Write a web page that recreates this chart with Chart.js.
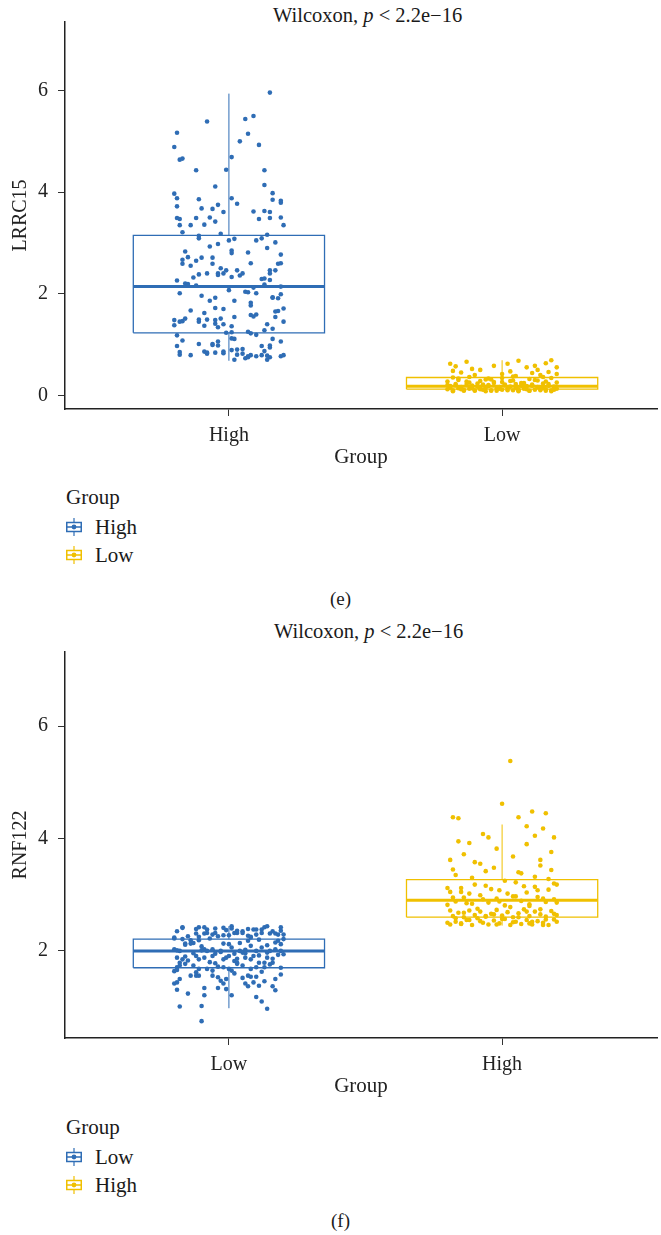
<!DOCTYPE html>
<html><head><meta charset="utf-8">
<script src="https://cdn.jsdelivr.net/npm/chart.js@4.4.1/dist/chart.umd.min.js"></script>
<style>
body{margin:0;background:#fff;width:661px;height:1235px;position:relative;overflow:hidden;font-family:'Liberation Serif',serif;color:#1a1a1a}
.cv{position:absolute;left:0;width:661px}
.ttl{position:absolute;font-size:20.5px;white-space:nowrap;line-height:1}
.lg{position:absolute;left:66px;font-size:21px;line-height:1}
.lg .it{display:flex;align-items:center;height:28px}
.lg svg{margin-right:13px}
.cap{position:absolute;left:10px;width:661px;text-align:center;font-size:19px;line-height:1}
</style></head><body>
<div class="ttl" style="left:273px;top:5px">Wilcoxon, <i>p</i> &lt; 2.2e−16</div>
<canvas id="c1" class="cv" style="top:0" width="661" height="470"></canvas>
<div class="lg" style="top:487px"><div style="height:26px">Group</div>
<div class="it"><svg width="16" height="18" id="i1a"></svg>High</div>
<div class="it"><svg width="16" height="18" id="i1b"></svg>Low</div></div>
<div class="cap" style="top:589px">(e)</div>

<div class="ttl" style="left:274px;top:621px">Wilcoxon, <i>p</i> &lt; 2.2e−16</div>
<canvas id="c2" class="cv" style="top:630px" width="661" height="469"></canvas>
<div class="lg" style="top:1117px"><div style="height:26px">Group</div>
<div class="it"><svg width="16" height="18" id="i2a"></svg>Low</div>
<div class="it"><svg width="16" height="18" id="i2b"></svg>High</div></div>
<div class="cap" style="top:1211px">(f)</div>
<script>
// ---------- data ----------
const BLUE = '#2f6db5', YELLOW = '#f0c000';
const yTicks = [0, 2, 4, 6];
const yTicksF = [2, 4, 6];

// Panel (e): LRRC15
const eCategories = ['High', 'Low'];
// box stats: [whiskerLow, q1, median, q3, whiskerHigh]
const eHighStats = [0.68, 1.23, 2.14, 3.15, 5.94];
const eLowStats  = [0.08, 0.12, 0.18, 0.35, 0.69];
const eHighJit = [0.15,-0.08,0.06,0.09,-0.19,0.07,-0.20,0.04,0.11,-0.18,-0.17,0.01,-0.12,-0.01,0.13,-0.05,0.13,-0.20,-0.19,-0.11,0.01,0.03,0.16,0.16,0.19,0.19,-0.19,-0.10,-0.06,-0.04,-0.02,0.09,0.13,0.15,-0.19,-0.18,-0.12,-0.07,-0.05,0.11,0.15,0.19,-0.18,-0.14,-0.09,0.20,-0.17,-0.03,-0.11,-0.11,0.00,0.02,0.10,0.12,0.14,0.17,-0.07,-0.04,0.01,0.01,0.07,0.14,0.19,-0.16,-0.15,-0.17,-0.17,-0.14,-0.12,-0.10,-0.06,-0.06,-0.03,0.08,0.18,0.19,-0.19,-0.16,-0.13,-0.11,-0.08,-0.04,-0.04,-0.02,-0.01,0.01,0.03,0.04,0.05,0.12,0.13,0.15,0.15,0.17,0.15,-0.15,-0.12,-0.18,-0.10,-0.07,-0.05,0.00,0.02,0.06,0.07,0.09,0.10,0.13,0.16,0.16,0.18,0.19,0.19,-0.14,-0.09,-0.05,-0.02,0.08,0.08,-0.20,-0.18,-0.17,-0.16,-0.11,-0.11,-0.08,-0.09,-0.05,-0.05,-0.04,-0.03,-0.02,0.02,0.08,0.09,0.10,0.14,0.16,0.17,0.17,0.18,0.20,0.20,-0.20,-0.19,-0.17,-0.11,-0.06,-0.06,-0.04,-0.04,-0.01,0.01,0.01,0.01,0.02,0.07,0.08,0.10,0.13,0.16,0.19,-0.19,-0.18,-0.18,-0.14,-0.09,-0.08,-0.08,-0.05,-0.02,-0.02,0.01,0.03,0.03,0.05,0.05,0.07,0.07,0.08,0.10,0.12,0.13,0.15,0.15,0.14,0.15,0.14,0.19,0.20,0.02,0.06,0.12];
const eHighVal = [5.96,5.39,5.44,5.50,5.17,5.15,4.89,5.00,4.93,4.64,4.66,4.69,4.43,4.44,4.43,4.11,4.14,3.97,3.88,3.86,3.88,3.77,3.98,3.85,3.79,3.83,3.72,3.68,3.67,3.75,3.61,3.62,3.63,3.61,3.49,3.47,3.49,3.50,3.42,3.47,3.49,3.50,3.35,3.35,3.36,3.35,3.21,3.18,3.14,3.09,3.05,3.08,3.05,3.09,3.16,3.01,2.93,2.98,2.85,2.80,2.81,2.90,2.77,2.83,2.72,2.67,2.59,2.55,2.65,2.71,2.71,2.59,2.50,2.60,2.59,2.60,2.26,2.20,2.32,2.38,2.40,2.40,2.37,2.40,2.46,2.33,2.46,2.36,2.40,2.29,2.30,2.27,2.46,2.46,2.40,2.19,2.16,2.01,1.96,1.86,1.92,2.07,1.86,2.04,2.03,2.12,2.01,2.18,1.93,1.92,1.91,1.99,2.14,1.67,1.62,1.72,1.70,1.82,1.77,1.48,1.45,1.46,1.51,1.49,1.45,1.49,1.37,1.48,1.41,1.34,1.51,1.40,1.54,1.58,1.55,1.59,1.40,1.31,1.65,1.54,1.66,1.71,1.45,1.38,1.18,1.08,1.01,0.99,1.01,0.98,1.06,1.23,1.36,1.24,1.12,1.11,1.25,1.22,1.19,1.28,1.11,1.06,0.97,0.85,0.80,0.79,0.86,0.82,0.84,0.84,0.86,0.83,0.89,0.80,0.90,0.91,0.82,0.75,0.77,0.79,0.77,0.97,0.87,0.98,0.94,0.78,0.75,0.70,0.77,0.79,0.70,0.73,0.79];
const eLowJit = [-0.19,-0.17,-0.13,-0.08,-0.03,0.02,0.06,0.09,0.13,0.16,0.18,0.20,-0.15,-0.10,0.00,0.05,0.11,0.15,-0.18,-0.05,-0.20,-0.18,-0.16,-0.14,-0.12,-0.10,-0.08,-0.06,-0.04,-0.02,0.00,0.02,0.04,0.06,0.08,0.10,0.12,0.14,0.16,0.18,0.20,-0.19,-0.17,-0.15,-0.13,-0.11,-0.09,-0.07,-0.05,-0.03,-0.01,0.01,0.03,0.05,0.07,0.09,0.11,0.13,0.15,0.17,0.19,-0.20,-0.16,-0.12,-0.08,-0.04,0.00,0.04,0.08,0.12,0.16,0.20,-0.18,-0.14,-0.10,-0.06,-0.02,0.02,0.06,0.10,0.14,0.18,
  -0.19,-0.17,-0.15,-0.13,-0.11,-0.09,-0.07,-0.05,-0.03,-0.01,0.01,0.03,0.05,0.07,0.09,0.11,0.13,0.15,0.17,0.19,-0.20,-0.16,-0.12,-0.06,0.00,0.04,0.10,0.14,0.18,0.20,-0.18,-0.11,0.03,0.12,0.17,-0.14,-0.04,0.06,0.16,-0.08];
const eLowVal = [0.62,0.57,0.66,0.50,0.58,0.62,0.68,0.55,0.50,0.63,0.69,0.55,0.45,0.40,0.42,0.38,0.44,0.36,0.35,0.33,0.12,0.10,0.14,0.11,0.13,0.09,0.12,0.15,0.10,0.13,0.11,0.14,0.10,0.12,0.13,0.09,0.11,0.14,0.12,0.10,0.13,0.18,0.20,0.16,0.22,0.19,0.17,0.21,0.18,0.24,0.16,0.20,0.17,0.22,0.19,0.18,0.21,0.16,0.23,0.19,0.17,0.27,0.30,0.25,0.28,0.31,0.26,0.29,0.24,0.30,0.27,0.25,0.08,0.09,0.10,0.08,0.09,0.10,0.08,0.09,0.10,0.08,
  0.15,0.22,0.12,0.27,0.14,0.23,0.11,0.20,0.26,0.13,0.21,0.28,0.15,0.24,0.12,0.19,0.29,0.14,0.22,0.11,0.20,0.33,0.36,0.31,0.34,0.37,0.32,0.40,0.34,0.42,0.48,0.52,0.47,0.58,0.46,0.10,0.09,0.10,0.09,0.13];

// Panel (f): RNF122
const fCategories = ['Low', 'High'];
const fLowStats  = [0.98, 1.70, 2.00, 2.21, 2.44];
const fHighStats = [2.45, 2.60, 2.90, 3.27, 4.25];
const fLowJit = [-0.17,-0.17,-0.11,-0.09,-0.08,-0.05,-0.02,0.01,0.01,0.03,0.05,0.09,0.10,0.12,0.13,0.14,0.19,0.19,0.18,0.20,0.20,0.19,0.18,-0.20,-0.20,-0.17,-0.15,-0.12,-0.11,-0.09,-0.08,-0.06,-0.05,-0.04,-0.02,0.02,0.03,0.05,0.07,0.08,0.08,0.10,0.12,0.15,0.17,-0.20,-0.19,-0.18,-0.16,-0.16,-0.14,-0.13,-0.11,-0.10,-0.09,-0.08,-0.06,-0.05,-0.03,-0.02,0.00,0.01,0.02,0.04,0.05,0.07,0.08,0.10,0.12,0.14,0.15,0.17,0.19,0.20,-0.19,-0.17,-0.15,-0.12,-0.11,-0.09,-0.06,-0.05,-0.02,-0.01,0.00,0.02,0.03,0.06,0.08,0.09,0.11,0.13,0.14,0.16,-0.19,-0.18,-0.20,-0.19,-0.16,-0.13,-0.11,-0.08,-0.06,-0.04,-0.02,0.00,0.01,0.03,0.05,0.08,0.10,0.13,0.19,-0.14,-0.12,-0.11,-0.06,-0.04,-0.03,-0.02,-0.01,0.05,0.07,0.08,0.10,0.06,0.09,0.11,0.13,0.17,0.19,-0.20,-0.19,-0.18,-0.19,-0.15,-0.09,-0.09,-0.04,-0.01,0.01,0.07,0.10,0.12,0.16,0.17,-0.18,-0.10,0.14,-0.10,
  -0.19,-0.14,-0.10,-0.07,-0.03,0.00,0.04,0.06,0.11,0.14,0.17,-0.16,-0.13,-0.07,0.03,0.06,0.11,0.16,0.18,-0.18,-0.12,0.02,0.12,0.15,-0.01,0.07,-0.12,0.16];
const fLowVal = [2.41,2.42,2.42,2.42,2.38,2.40,2.41,2.44,2.40,2.36,2.35,2.38,2.38,2.38,2.42,2.44,2.42,2.36,2.29,2.29,2.21,2.12,2.18,2.22,2.24,2.21,2.26,2.31,2.25,2.31,2.32,2.29,2.32,2.26,2.28,2.32,2.32,2.32,2.27,2.25,2.24,2.29,2.32,2.31,2.31,2.03,2.01,2.00,2.11,2.13,2.13,2.14,2.19,2.01,2.03,2.00,2.03,1.95,2.00,2.13,2.12,2.06,1.95,2.00,1.97,2.18,2.09,2.00,2.06,1.97,2.00,2.03,2.00,1.94,1.88,1.85,1.83,1.91,1.85,1.88,1.91,1.78,1.85,1.88,1.91,1.82,1.79,1.88,1.85,1.91,1.79,1.79,1.88,1.79,1.71,1.74,1.64,1.66,1.77,1.74,1.68,1.68,1.65,1.72,1.71,1.68,1.65,1.77,1.74,1.68,1.71,1.71,1.70,1.56,1.56,1.56,1.56,1.53,1.47,1.42,1.50,1.52,1.56,1.54,1.54,1.42,1.44,1.38,1.46,1.50,1.58,1.42,1.44,1.50,1.31,1.24,1.34,1.21,1.34,1.32,1.21,1.37,1.18,1.10,1.37,1.30,1.01,1.02,0.97,0.75,
  2.35,2.19,2.08,2.22,1.98,2.28,2.14,2.02,2.20,2.10,2.15,1.90,1.96,1.80,1.86,1.96,1.92,1.86,1.93,1.79,1.62,1.60,1.63,1.76,2.37,2.39,2.39,2.35];
const fHighJit = [0.03,-0.18,-0.16,-0.12,-0.05,0.00,0.06,0.11,0.16,0.19,-0.19,-0.14,-0.08,-0.02,0.04,0.09,0.14,0.18,-0.17,-0.11,-0.06,0.01,0.07,0.12,0.17,-0.20,-0.15,-0.10,-0.04,0.02,0.08,0.13,0.19,-0.18,-0.13,-0.07,-0.01,0.05,0.10,0.15,0.20,-0.19,-0.14,-0.09,-0.03,0.03,0.09,0.14,0.19,-0.17,-0.12,-0.06,0.00,0.06,0.11,0.16,-0.20,-0.15,-0.08,-0.02,0.04,0.10,0.15,0.20,
  -0.19,-0.17,-0.15,-0.13,-0.11,-0.09,-0.07,-0.05,-0.03,-0.01,0.01,0.03,0.05,0.07,0.09,0.11,0.13,0.15,0.17,0.19,-0.18,-0.16,-0.14,-0.12,-0.10,-0.08,-0.06,-0.04,-0.02,0.00,0.02,0.04,0.06,0.08,0.10,0.12,0.14,0.16,0.18,0.20,-0.20,-0.17,-0.14,-0.11,-0.08,-0.05,-0.02,0.01,0.04,0.07,0.10,0.13,0.16,0.19,-0.19,-0.15,-0.12,-0.06,-0.01,0.05,0.09,0.12,0.17,0.20,-0.18,-0.10,-0.03,0.06,0.14,0.18,-0.16,0.09,0.12,0.15,-0.07];
const fHighVal = [5.38,4.38,4.36,3.92,4.02,4.62,4.38,4.48,4.45,4.02,3.62,3.72,3.55,3.82,3.68,3.90,3.62,3.76,3.35,3.30,3.42,3.25,3.38,3.32,3.28,3.12,3.05,3.18,3.10,3.02,3.15,3.08,3.20,2.95,2.85,2.92,2.88,2.97,2.80,2.93,2.86,2.72,2.68,2.75,2.65,2.78,2.70,2.74,2.66,2.58,2.55,2.62,2.57,2.60,2.52,2.56,2.50,2.48,2.53,2.47,2.51,2.49,2.46,2.52,
  2.47,2.52,2.49,2.55,2.46,2.58,2.50,2.47,2.54,2.49,2.57,2.46,2.52,2.48,2.55,2.47,2.53,2.50,2.46,2.56,2.62,2.68,2.60,2.72,2.64,2.70,2.61,2.66,2.73,2.63,2.69,2.60,2.67,2.74,2.62,2.70,2.65,2.61,2.71,2.64,2.82,2.88,2.95,2.84,2.99,2.86,2.93,2.81,2.97,2.89,2.83,2.96,2.87,2.92,3.05,3.12,3.02,3.16,3.08,3.22,3.04,3.14,3.09,3.18,3.45,3.58,3.48,3.40,3.52,3.44,3.95,4.22,4.05,4.18,4.08];

// ---------- drawing ----------
Chart.defaults.font.family = "'Liberation Serif', 'Times New Roman', serif";
Chart.defaults.font.size = 20;
Chart.defaults.color = '#222';

function groupSets(xc, stats, jit, vals, color) {
  const [lo, q1, med, q3, hi] = stats, w = 0.35;
  const line = (data, bw, ord) => ({type:'line', data, borderColor:color, borderWidth:bw, pointRadius:0, tension:0, fill:false, order:ord});
  return [
    line([{x:xc-w,y:q1},{x:xc+w,y:q1},{x:xc+w,y:q3},{x:xc-w,y:q3},{x:xc-w,y:q1}], 1.3, 2),
    line([{x:xc-w,y:med},{x:xc+w,y:med}], 3, 2),
    line([{x:xc,y:lo},{x:xc,y:q1}], 1, 2),
    line([{x:xc,y:q3},{x:xc,y:hi}], 1, 2),
    {type:'scatter', data: jit.map((j,i)=>({x:xc+j, y:vals[i]})), backgroundColor:color, borderWidth:0, pointRadius:2.3, order:1}
  ];
}

function makeChart(id, cats, ticks, yLabel, yMin, yMax, datasets) {
  new Chart(document.getElementById(id), {
    type:'scatter',
    data:{datasets},
    options:{
      responsive:false, animation:false, events:[],
      layout:{padding:{top:18, right:0, left:0, bottom:0}},
      plugins:{legend:{display:false}, tooltip:{enabled:false}},
      scales:{
        x:{type:'linear', min:0.4, max:2.567,
           afterBuildTicks:s=>{s.ticks=[{value:1},{value:2}];},
           afterFit:s=>{s.height=61;},
           ticks:{callback:v=>cats[v-1], padding:8, color:'#222', font:{size:20}},
           grid:{drawOnChartArea:false, drawTicks:true, tickLength:7, color:'#333', lineWidth:1},
           border:{display:true, color:'#222', width:1.5},
           title:{display:true, text:'Group', padding:{top:1,bottom:0}, font:{size:21}, color:'#222'}},
        y:{type:'linear', min:yMin, max:yMax,
           afterBuildTicks:s=>{s.ticks=ticks.map(v=>({value:v}));},
           afterFit:s=>{s.width=65;},
           ticks:{padding:10, color:'#222', font:{size:20}},
           grid:{drawOnChartArea:false, drawTicks:true, tickLength:7, color:'#333', lineWidth:1},
           border:{display:true, color:'#222', width:1.5},
           title:{display:true, text:yLabel, padding:{top:9,bottom:0}, font:{size:20}, color:'#222'}}
      }
    }
  });
}

makeChart('c1', eCategories, yTicks, 'LRRC15', -0.27, 7.35,
  [...groupSets(1, eHighStats, eHighJit, eHighVal, BLUE), ...groupSets(2, eLowStats, eLowJit, eLowVal, YELLOW)]);
makeChart('c2', fCategories, yTicksF, 'RNF122', 0.45, 7.32,
  [...groupSets(1, fLowStats, fLowJit, fLowVal, BLUE), ...groupSets(2, fHighStats, fHighJit, fHighVal, YELLOW)]);

// legend icons
function icon(id, color) {
  document.getElementById(id).innerHTML =
    `<line x1="8" y1="0" x2="8" y2="18" stroke="${color}" stroke-width="1.2"/>`+
    `<rect x="0.75" y="4.5" width="14.5" height="9" fill="#fff" stroke="${color}" stroke-width="1.5"/>`+
    `<line x1="0.75" y1="9" x2="15.25" y2="9" stroke="${color}" stroke-width="1.5"/>`+
    `<circle cx="8" cy="9" r="2.4" fill="${color}"/>`;
}
icon('i1a', BLUE); icon('i1b', YELLOW); icon('i2a', BLUE); icon('i2b', YELLOW);
</script>
</body></html>
